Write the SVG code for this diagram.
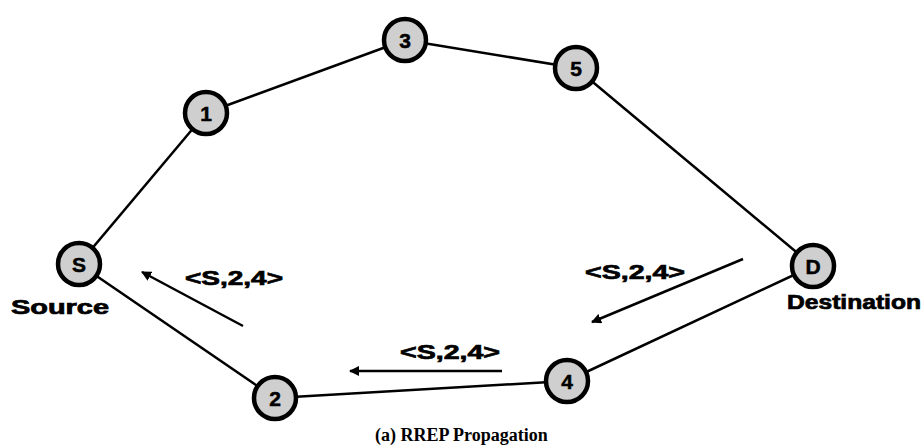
<svg xmlns="http://www.w3.org/2000/svg" width="924" height="448" viewBox="0 0 924 448">
<style>
.edge{stroke:#000;stroke-width:2.5;fill:none}
.arr{stroke:#000;stroke-width:2.5;fill:none;marker-end:url(#ah)}
.node circle{fill:#cfcfcf;stroke:#000;stroke-width:4.5}
.node text{font-family:"Liberation Sans",Arial,sans-serif;font-weight:bold;font-size:21px;text-anchor:middle;fill:#000;stroke:#000;stroke-width:0.5}
.lbl{font-family:"Liberation Sans",Arial,sans-serif;font-weight:bold;font-size:20px;fill:#000;stroke:#000;stroke-width:0.7}
.cap{font-family:"Liberation Serif","Times New Roman",serif;font-weight:bold;font-size:18px;fill:#000}
</style>
<defs>
<marker id="ah" viewBox="0 0 10 10" refX="9" refY="5" markerWidth="4" markerHeight="4" orient="auto" markerUnits="strokeWidth">
<path d="M0,0 L10,5 L0,10 z" fill="#000"/>
</marker>
</defs>
<rect width="924" height="448" fill="#fff"/>
<g id="connectors">
<line class="edge" x1="79" y1="264" x2="206" y2="113"/>
<line class="edge" x1="206" y1="113" x2="405" y2="40"/>
<line class="edge" x1="405" y1="40" x2="576" y2="68"/>
<line class="edge" x1="576" y1="68" x2="813" y2="266"/>
<line class="edge" x1="813" y1="266" x2="567" y2="381"/>
<line class="edge" x1="567" y1="381" x2="275" y2="398"/>
<line class="edge" x1="275" y1="398" x2="79" y2="264"/>
<line class="arr" x1="243" y1="326" x2="142" y2="272"/>
<line class="arr" x1="502" y1="371" x2="350" y2="371"/>
<line class="arr" x1="743" y1="259" x2="592" y2="322"/>
</g>
<g id="node-S" class="node"><circle cx="79" cy="264" r="21"/><text x="79" y="272">S</text></g>
<g id="node-1" class="node"><circle cx="206" cy="113" r="21"/><text x="206" y="121">1</text></g>
<g id="node-3" class="node"><circle cx="405" cy="40" r="21"/><text x="405" y="48">3</text></g>
<g id="node-5" class="node"><circle cx="576" cy="68" r="21"/><text x="576" y="76">5</text></g>
<g id="node-D" class="node"><circle cx="813" cy="266" r="21"/><text x="813" y="274">D</text></g>
<g id="node-2" class="node"><circle cx="275" cy="398" r="21"/><text x="275" y="406">2</text></g>
<g id="node-4" class="node"><circle cx="567" cy="381" r="21"/><text x="567" y="389">4</text></g>
<g id="labels">
<text class="lbl" x="11" y="314" textLength="98" lengthAdjust="spacingAndGlyphs">Source</text>
<text class="lbl" x="787" y="309" textLength="134" lengthAdjust="spacingAndGlyphs">Destination</text>
<text class="lbl" x="185" y="285" textLength="98" lengthAdjust="spacingAndGlyphs">&lt;S,2,4&gt;</text>
<text class="lbl" x="400" y="359" textLength="100" lengthAdjust="spacingAndGlyphs">&lt;S,2,4&gt;</text>
<text class="lbl" x="585" y="279" textLength="100" lengthAdjust="spacingAndGlyphs">&lt;S,2,4&gt;</text>
<text class="cap" x="375" y="441">(a) RREP Propagation</text>
</g>
</svg>
